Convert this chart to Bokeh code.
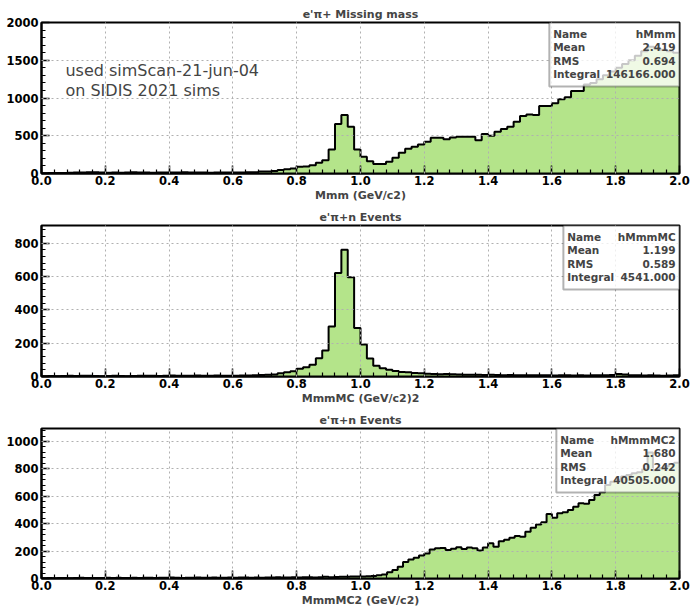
import numpy as np
from bokeh.plotting import figure
from bokeh.layouts import column
from bokeh.models import (BoxAnnotation, Label, Range1d,
                          SingleIntervalTicker, PrintfTickFormatter)
from bokeh.embed import file_html
from bokeh.resources import INLINE

X_MIN, X_MAX = 0.0, 2.0
FONT = "DejaVu Sans"
GREEN = "#b4e48a"

# ---- histogram contents ----
# hMmm : 100 bins, 0..2
mmm_counts = [4, 6, 5, 8, 10, 12, 14, 16, 15, 13,
              11, 12, 10, 13, 15, 14, 12, 11, 13, 14,
              12, 13, 15, 14, 13, 12, 11, 13, 14, 12,
              12, 14, 15, 18, 25, 28, 32, 45, 55, 66,
              88, 92, 110, 141, 177, 318, 655, 774, 619, 318,
              221, 163, 125, 125, 154, 207, 274, 327, 354, 385,
              420, 473, 473, 455, 478, 486, 486, 486, 442, 522,
              500, 553, 588, 619, 686, 761, 783, 774, 894, 894,
              930, 983, 1009, 1093, 1093, 1180, 1200, 1250, 1300, 1350,
              1400, 1450, 1500, 1560, 1620, 1680, 1660, 1640, 1620, 1600]

# hMmmMC : 100 bins, 0..2
mmmmc_counts = [2, 3, 2, 3, 4, 3, 5, 4, 3, 2,
                3, 4, 3, 2, 3, 4, 5, 4, 3, 4,
                6, 5, 4, 5, 6, 5, 4, 6, 5, 4,
                5, 6, 6, 8, 9, 10, 12, 20, 26, 32,
                46, 56, 70, 110, 156, 300, 620, 760, 595, 290,
                192, 108, 64, 50, 40, 33, 27, 26, 21, 20,
                16, 15, 14, 15, 13, 12, 11, 10, 11, 9,
                10, 9, 8, 9, 8, 7, 8, 7, 8, 7,
                6, 7, 8, 6, 7, 6, 7, 8, 7, 9,
                15, 12, 8, 7, 6, 7, 6, 5, 6, 7]

# hMmmMC2 : 120 bins, 0..2
mmmmc2_counts = [2, 3, 2, 4, 3, 2, 3, 5, 4, 3,
                 4, 3, 5, 4, 6, 4, 3, 5, 4, 6,
                 5, 4, 6, 5, 7, 5, 4, 6, 5, 7,
                 6, 5, 7, 6, 5, 7, 6, 8, 7, 6,
                 7, 6, 8, 7, 9, 8, 7, 9, 8, 10,
                 9, 8, 10, 12, 10, 11, 13, 12, 14, 15,
                 15, 17, 19, 23, 29, 45, 62, 85, 120, 138,
                 152, 168, 182, 212, 220, 222, 208, 218, 228, 215,
                 226, 220, 205, 226, 258, 232, 272, 282, 298, 310,
                 305, 341, 370, 395, 410, 470, 444, 476, 483, 500,
                 524, 549, 545, 573, 610, 630, 683, 707, 720, 744,
                 755, 768, 775, 800, 920, 790, 805, 820, 835, 845]

titles = ["e'\u03c0+ Missing mass", "e'\u03c0+n Events", "e'\u03c0+n Events"]
xlabels = ["Mmm (GeV/c2)", "MmmMC (GeV/c2)2", "MmmMC2 (GeV/c2)"]
stat_names = ["Name", "Mean", "RMS", "Integral"]
stat_values = [["hMmm", "2.419", "0.694", "146166.000"],
               ["hMmmMC", "1.199", "0.589", "4541.000"],
               ["hMmmMC2", "1.680", "0.242", "40505.000"]]
y_max = [2000, 905, 1095]
y_step = [500, 200, 200]
note_lines = ["used simScan-21-jun-04", "on SIDIS 2021 sims"]


def make_panel(counts, ymax, ystep, title, xlabel, names, values,
               height, top, bottom, frame_h, box_left, row_px):
    n = len(counts)
    edges = np.linspace(X_MIN, X_MAX, n + 1)
    cnt = np.asarray(counts, dtype=float)
    p = figure(width=690, height=height, x_range=Range1d(X_MIN, X_MAX),
               y_range=Range1d(0, ymax), output_backend="svg",
               toolbar_location=None, min_border_left=41, min_border_right=11,
               min_border_top=top, min_border_bottom=bottom, title=title)
    p.background_fill_color = "white"
    p.border_fill_color = "white"
    p.outline_line_color = "black"
    p.outline_line_width = 2

    xs = np.repeat(edges, 2)
    ys = np.concatenate([[0.0], np.repeat(cnt, 2), [0.0]])
    p.patch(xs, ys, fill_color=GREEN, line_color=None)
    p.line(xs, ys, line_color="black", line_width=2)

    # title
    p.title.text_font = FONT
    p.title.text_font_size = "11px"
    p.title.text_font_style = "bold"
    p.title.align = "center"
    p.title.standoff = 4
    p.title.offset = 0

    xt = SingleIntervalTicker(interval=0.2, num_minor_ticks=5)
    yt = SingleIntervalTicker(interval=ystep, num_minor_ticks=5)
    p.xaxis.ticker = xt
    p.yaxis.ticker = yt
    p.xaxis.formatter = PrintfTickFormatter(format="%.1f")
    for ax in (p.xaxis[0], p.yaxis[0]):
        ax.major_label_text_font = FONT
        ax.major_label_text_font_size = "11.5px"
        ax.major_label_text_font_style = "bold"
        ax.major_label_text_color = "black"
        ax.axis_line_width = 2
        ax.major_tick_in = 8
        ax.major_tick_out = 0
        ax.minor_tick_in = 4
        ax.minor_tick_out = 0
        ax.major_tick_line_width = 1.5
        ax.minor_tick_line_width = 1.2
    p.xaxis.major_label_standoff = 2
    p.yaxis.major_label_standoff = 3
    p.xaxis.axis_label = xlabel
    p.xaxis.axis_label_text_font = FONT
    p.xaxis.axis_label_text_font_size = "11px"
    p.xaxis.axis_label_text_font_style = "bold"
    p.xaxis.axis_label_standoff = 1

    p.grid.grid_line_color = "#b0b0b0"
    p.grid.grid_line_dash = "2 3"
    p.grid.grid_line_width = 1
    p.grid.level = "annotation"

    # statistics box
    per_px = ymax / frame_h
    box_bottom = ymax - 64 * per_px
    p.add_layout(BoxAnnotation(left=box_left, right=X_MAX, bottom=box_bottom,
                               top=ymax, fill_color="white", fill_alpha=0.78,
                               line_color="black", line_width=2,
                               level="overlay"))
    for i, (nm, vl) in enumerate(zip(names, values)):
        yy = ymax - row_px[i] * per_px
        p.add_layout(Label(x=box_left + 0.012, y=yy, text=nm,
                           text_font=FONT, text_font_size="10.5px",
                           text_font_style="bold", text_baseline="middle",
                           text_align="left", level="overlay"))
        p.add_layout(Label(x=1.988, y=yy, text=vl,
                           text_font=FONT, text_font_size="10.5px",
                           text_font_style="bold", text_baseline="middle",
                           text_align="right", level="overlay"))
    return p


rows = [11, 24, 38, 51]
p1 = make_panel(mmm_counts, y_max[0], y_step[0], titles[0], xlabels[0],
                stat_names, stat_values[0], 204, 22, 31, 151, 1.592, rows)
p2 = make_panel(mmmmc_counts, y_max[1], y_step[1], titles[1], xlabels[1],
                stat_names, stat_values[1], 204, 21, 32, 151, 1.636, rows)
p3 = make_panel(mmmmc2_counts, y_max[2], y_step[2], titles[2], xlabels[2],
                stat_names, stat_values[2], 204, 20, 34, 150, 1.614, rows)

per1 = y_max[0] / 151
for k, txt in enumerate(note_lines):
    p1.add_layout(Label(x=0.075, y=y_max[0] - (48 + 20 * k) * per1, text=txt,
                        text_font=FONT, text_font_size="16px",
                        text_baseline="middle", text_align="left",
                        level="overlay"))

layout = column(p1, p2, p3, spacing=0)
open("out.html", "w").write(file_html(layout, INLINE))
